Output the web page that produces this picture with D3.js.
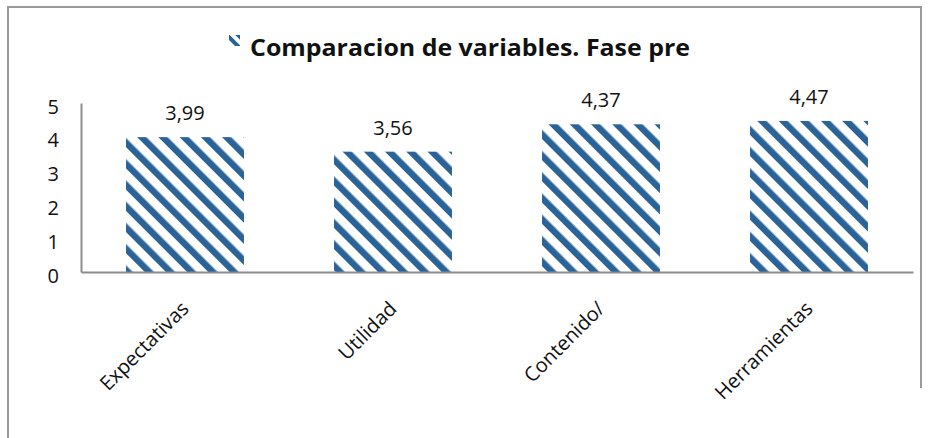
<!DOCTYPE html>
<html>
<head>
<meta charset="utf-8">
<script src="https://cdn.jsdelivr.net/npm/d3@7"></script>
<style>
  body { margin: 0; background: #fff; }
  svg { display: block; font-family: "Open Sans", sans-serif; }
</style>
</head>
<body>
<div id="chart"></div>
<script>
const categories = ["Expectativas", "Utilidad", "Contenido/", "Herramientas"];
const values = [3.99, 3.56, 4.37, 4.47];
const yTicks = [0, 1, 2, 3, 4, 5];
const title = "Comparacion de variables. Fase pre";

const width = 931, height = 438;
const blue = "#2a6398";
const svg = d3.select("#chart").append("svg")
  .attr("width", width)
  .attr("height", height);

// stripe fill, downward diagonal
const defs = svg.append("defs");
function stripes(id, size, band, transform) {
  const p = defs.append("pattern")
    .attr("id", id)
    .attr("patternUnits", "userSpaceOnUse")
    .attr("width", size)
    .attr("height", size)
    .attr("patternTransform", transform);
  p.append("rect").attr("width", size).attr("height", size).attr("fill", "#fff");
  p.append("rect").attr("width", band).attr("height", size).attr("fill", blue);
}
stripes("stripes", 15, 6.5, "rotate(-45)");
stripes("keyStripes", 8, 4, "translate(227,38) rotate(-45)");

// outer frame
svg.append("path")
  .attr("d", "M8,440 V7 H921 V388")
  .attr("fill", "none")
  .attr("stroke", "#9a9a9a")
  .attr("stroke-width", 2);

const x = d3.scaleBand()
  .domain(categories)
  .range([81, 913])
  .paddingInner(0.433)
  .paddingOuter(0.2165);

const y = d3.scaleLinear()
  .domain([0, 5])
  .range([272, 103]);

// bars
svg.selectAll(".bar")
  .data(values)
  .join("rect")
  .attr("class", "bar")
  .attr("x", (d, i) => x(categories[i]))
  .attr("y", d => y(d))
  .attr("width", x.bandwidth())
  .attr("height", d => y(0) - y(d))
  .attr("fill", "url(#stripes)");

// value labels
svg.selectAll(".val")
  .data(values)
  .join("text")
  .attr("class", "val")
  .attr("x", (d, i) => x(categories[i]) + x.bandwidth() / 2)
  .attr("y", d => y(d) - 17)
  .attr("text-anchor", "middle")
  .attr("font-size", 20)
  .attr("fill", "#111")
  .text(d => d.toFixed(2).replace(".", ","));

// y axis
const yAxis = svg.append("g")
  .attr("transform", "translate(81,0)")
  .call(d3.axisLeft(y).tickValues(yTicks).tickSize(0).tickPadding(22).tickFormat(d3.format("d")));
yAxis.select(".domain").attr("stroke", "#8c8c8c").attr("stroke-width", 2);
yAxis.selectAll("text")
  .attr("font-size", 20)
  .attr("font-family", "'Open Sans', sans-serif")
  .attr("fill", "#111")
  .attr("dy", "0.5em");

// x axis
const xAxis = svg.append("g")
  .attr("transform", "translate(0,272)")
  .call(d3.axisBottom(x).tickSize(0).tickFormat(d => d));
xAxis.select(".domain").attr("stroke", "#8c8c8c").attr("stroke-width", 2);
xAxis.selectAll("text")
  .attr("font-size", 20)
  .attr("font-family", "'Open Sans', sans-serif")
  .attr("fill", "#111")
  .attr("text-anchor", "end")
  .attr("dy", null)
  .attr("y", null)
  .attr("transform", "translate(5,38) rotate(-45)");

// title with legend key
svg.append("rect")
  .attr("x", 229)
  .attr("y", 35)
  .attr("width", 11)
  .attr("height", 11)
  .attr("fill", "url(#keyStripes)");
svg.append("text")
  .attr("x", 250)
  .attr("y", 56)
  .attr("font-size", 24)
  .attr("font-weight", "bold")
  .attr("fill", "#111")
  .attr("textLength", 440)
  .attr("lengthAdjust", "spacingAndGlyphs")
  .text(title);
</script>
</body>
</html>
